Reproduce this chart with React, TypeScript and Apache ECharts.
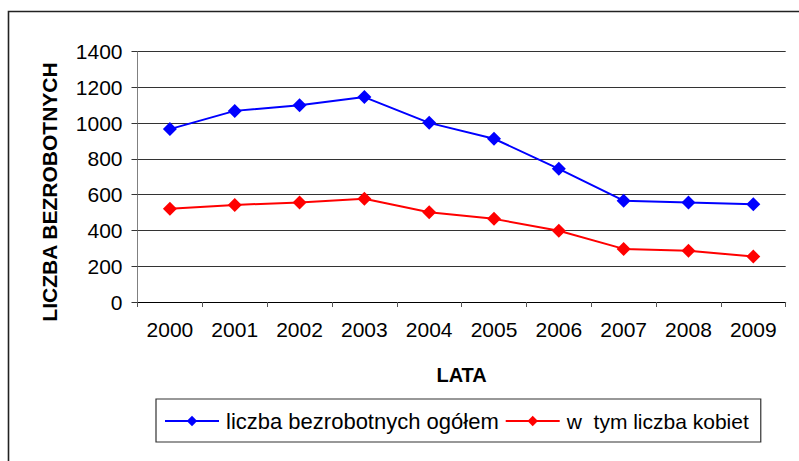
import React, { useEffect, useRef } from "react";
import * as echarts from "echarts";

const years = ["2000", "2001", "2002", "2003", "2004", "2005", "2006", "2007", "2008", "2009"];
const totalUnemployed = [967, 1069, 1101, 1146, 1002, 913, 745, 567, 556, 547];
const womenUnemployed = [521, 543, 557, 577, 502, 465, 399, 297, 287, 254];
const seriesNames = ["liczba bezrobotnych ogółem", "w  tym liczba kobiet"];
const yTitle = "LICZBA BEZROBOTNYCH";
const xTitle = "LATA";

const FONT = "Liberation Sans, Arial, sans-serif";

export default function App() {
  const ref = useRef<HTMLDivElement>(null);
  useEffect(() => {
    if (!ref.current) return;
    const chart = echarts.init(ref.current, null, { renderer: "svg" });
    chart.setOption({
      animation: false,
      backgroundColor: "#ffffff",
      textStyle: { fontFamily: FONT },
      grid: { left: 137.5, right: 13.3, top: 51.7, bottom: 159, containLabel: false },
      graphic: [
        {
          type: "rect",
          shape: { x: 8.5, y: 11.5, width: 820, height: 480 },
          style: { fill: "none", stroke: "#222", lineWidth: 1.6 },
          silent: true,
        },
        {
          type: "text",
          x: 49,
          y: 192,
          rotation: Math.PI / 2,
          style: {
            text: yTitle,
            fontFamily: FONT,
            fontSize: 21,
            fontWeight: "bold",
            fill: "#000",
            align: "center",
            verticalAlign: "middle",
          },
        },
      ],
      legend: {
        left: 156,
        top: 399,
        orient: "horizontal",
        itemWidth: 54,
        itemHeight: 13,
        itemGap: 6,
        padding: [11, 12, 10, 8],
        borderColor: "#333",
        borderWidth: 1.2,
        textStyle: { fontFamily: FONT, fontSize: 21, color: "#000", padding: [0, 0, 0, 2] },
        data: [
          { name: seriesNames[0], textStyle: { fontSize: 22 } },
          { name: seriesNames[1] },
        ],
      },
      xAxis: {
        type: "category",
        data: years,
        boundaryGap: true,
        name: xTitle,
        nameLocation: "middle",
        nameGap: 63,
        nameTextStyle: { fontFamily: FONT, fontSize: 20, fontWeight: "bold", color: "#000" },
        axisLine: { lineStyle: { color: "#000", width: 1 } },
        axisTick: { show: true, length: 5, alignWithLabel: false, lineStyle: { color: "#555" } },
        axisLabel: { fontFamily: FONT, fontSize: 21, color: "#000", margin: 17 },
        splitLine: { show: false },
      },
      yAxis: {
        type: "value",
        min: 0,
        max: 1400,
        interval: 200,
        axisLine: { show: true, lineStyle: { color: "#808080", width: 1 } },
        axisTick: { show: true, length: 6, lineStyle: { color: "#333" } },
        axisLabel: {
          fontFamily: FONT,
          fontSize: 21,
          color: "#000",
          margin: 15,
          formatter: (v: number) => String(v),
        },
        splitLine: { show: true, lineStyle: { color: "#333", width: 1 } },
      },
      series: [
        {
          name: seriesNames[0],
          type: "line",
          data: totalUnemployed,
          symbol: "diamond",
          symbolSize: 14,
          itemStyle: { color: "#0000ff" },
          lineStyle: { color: "#0000ff", width: 2 },
        },
        {
          name: seriesNames[1],
          type: "line",
          data: womenUnemployed,
          symbol: "diamond",
          symbolSize: 14,
          itemStyle: { color: "#ff0000" },
          lineStyle: { color: "#ff0000", width: 2 },
        },
      ],
    });
    return () => chart.dispose();
  }, []);
  return (
    <div
      ref={ref}
      style={{ position: "absolute", left: 0, top: 0, width: 799, height: 461, background: "#fff" }}
    />
  );
}
